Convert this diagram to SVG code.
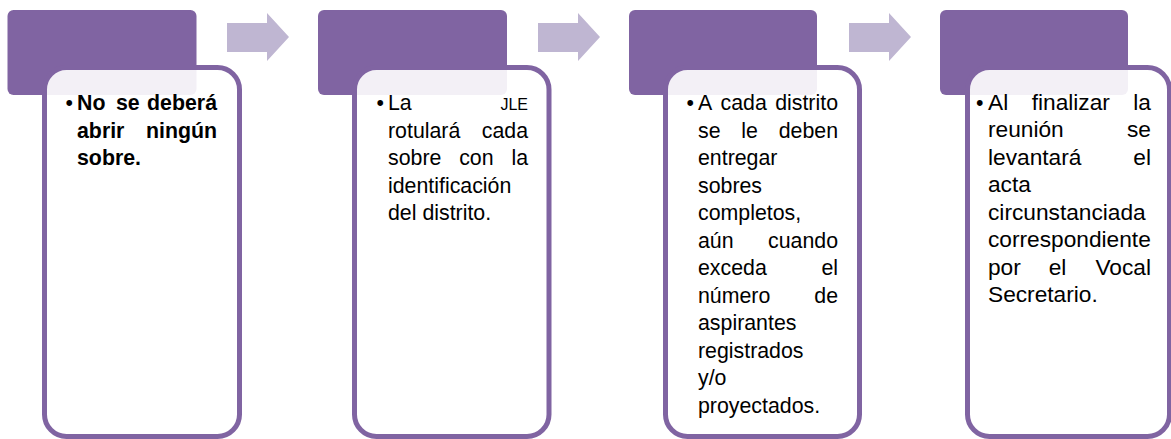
<svg xmlns="http://www.w3.org/2000/svg" width="1171" height="439" viewBox="0 0 1171 439">
<style>
.hdr{fill:#8064A2;}
.box{fill:#FFFFFF;fill-opacity:0.9;stroke:#8064A2;stroke-width:5;}
.arr{fill:#BFB6D2;}
.t{font-family:"Liberation Sans",Arial,sans-serif;font-size:21.33px;fill:#000000;}
.b{font-weight:bold;}
.s{font-size:16px;}
.e{text-anchor:end;}
</style>
<rect width="1171" height="439" fill="#FFFFFF"/>
<g id="connectors">
<polygon class="arr" points="227,23 267,23 267,13 289,37 267,61 267,52 227,52"/>
<polygon class="arr" points="538,23 578,23 578,13 600,37 578,61 578,52 538,52"/>
<polygon class="arr" points="849,23 889,23 889,13 911,37 889,61 889,52 849,52"/>
</g>
<g id="node1">
<rect class="hdr" x="7.5" y="10" width="189" height="85" rx="6"/>
<rect class="box" x="44.5" y="67.5" width="195" height="369" rx="22"/>
<text class="t" x="65.5" y="110">•</text>
<text class="t b" x="77" y="110">No</text>
<text class="t b" x="116" y="110">se</text>
<text class="t b e" x="217" y="110">deberá</text>
<text class="t b" x="77" y="137.5">abrir</text>
<text class="t b e" x="217" y="137.5">ningún</text>
<text class="t b" x="77" y="165">sobre.</text>
</g>
<g id="node2">
<rect class="hdr" x="318" y="10" width="189" height="85" rx="6"/>
<rect class="box" x="354.5" y="67.5" width="194.5" height="369" rx="22"/>
<text class="t" x="376.5" y="110">•</text>
<text class="t" x="388" y="110">La</text>
<text class="t s e" x="528" y="110">JLE</text>
<text class="t" x="388" y="137.5">rotulará</text>
<text class="t e" x="528" y="137.5">cada</text>
<text class="t" x="388" y="165">sobre</text>
<text class="t" x="459.2" y="165">con</text>
<text class="t e" x="528" y="165">la</text>
<text class="t" x="388" y="192.5">identificación</text>
<text class="t" x="388" y="220">del distrito.</text>
</g>
<g id="node3">
<rect class="hdr" x="629" y="10" width="188" height="85" rx="6"/>
<rect class="box" x="665.5" y="67.5" width="194" height="369" rx="22"/>
<text class="t" x="686.5" y="110">•</text>
<text class="t" x="698" y="110">A</text>
<text class="t" x="720.6" y="110">cada</text>
<text class="t e" x="838" y="110">distrito</text>
<text class="t" x="698" y="137.5">se</text>
<text class="t" x="741.3" y="137.5">le</text>
<text class="t e" x="838" y="137.5">deben</text>
<text class="t" x="698" y="165">entregar</text>
<text class="t" x="698" y="192.5">sobres</text>
<text class="t" x="698" y="220">completos,</text>
<text class="t" x="698" y="247.5">aún</text>
<text class="t e" x="838" y="247.5">cuando</text>
<text class="t" x="698" y="275">exceda</text>
<text class="t e" x="838" y="275">el</text>
<text class="t" x="698" y="302.5">número</text>
<text class="t e" x="838" y="302.5">de</text>
<text class="t" x="698" y="330">aspirantes</text>
<text class="t" x="698" y="357.5">registrados</text>
<text class="t" x="698" y="385">y/o</text>
<text class="t" x="698" y="412.5">proyectados.</text>
</g>
<g id="node4">
<rect class="hdr" x="940" y="10" width="188" height="85" rx="6"/>
<rect class="box" x="967.5" y="67.5" width="202" height="369" rx="22"/>
<text class="t" x="976" y="110">•</text>
<g transform="translate(988,0) scale(1.065,1) translate(-988,0)">
<text class="t" x="988" y="110">Al</text>
<text class="t" x="1029" y="110">finalizar</text>
<text class="t e" x="1141" y="110">la</text>
<text class="t" x="988" y="137.5">reunión</text>
<text class="t e" x="1141" y="137.5">se</text>
<text class="t" x="988" y="165">levantará</text>
<text class="t e" x="1141" y="165">el</text>
<text class="t" x="988" y="192.5">acta</text>
<text class="t" x="988" y="220">circunstanciada</text>
<text class="t" x="988" y="247.5">correspondiente</text>
<text class="t" x="988" y="275">por</text>
<text class="t" x="1045" y="275">el</text>
<text class="t e" x="1141" y="275">Vocal</text>
<text class="t" x="988" y="302.5">Secretario.</text>
</g>
</g>
</svg>
